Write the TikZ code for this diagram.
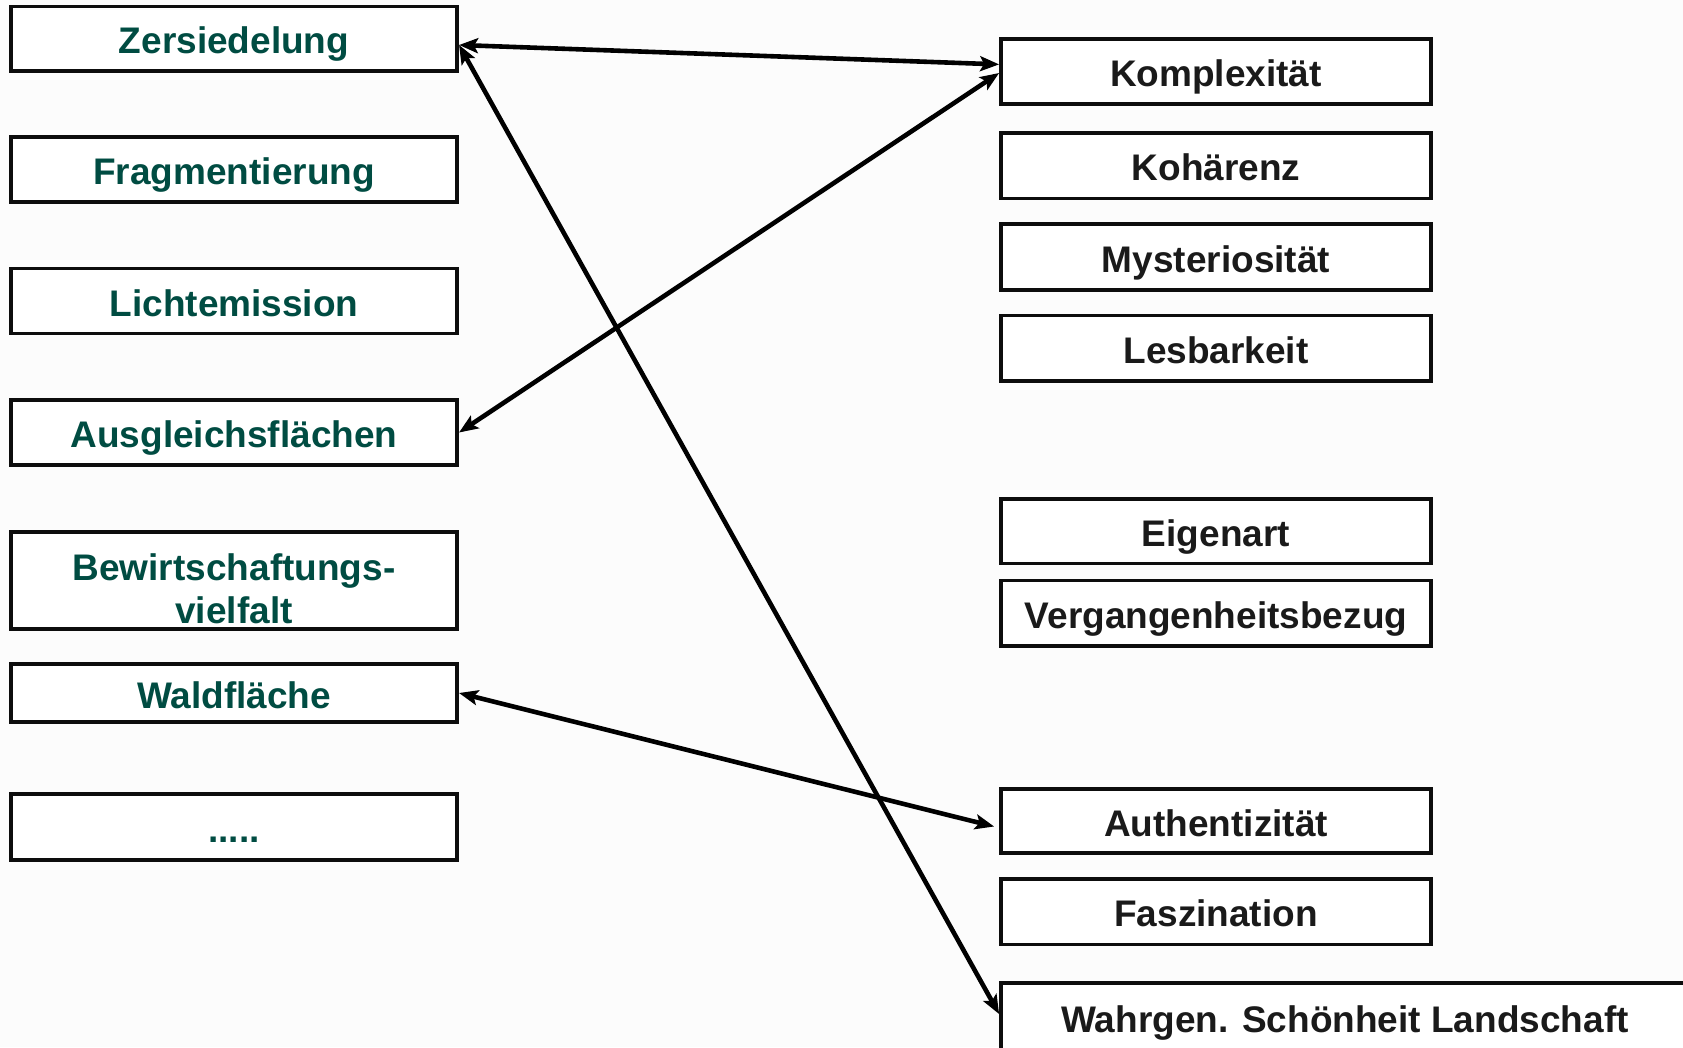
\documentclass[tikz,border=0pt]{standalone}
\usepackage{fontspec}
\setmainfont{Liberation Sans}
\usetikzlibrary{arrows.meta}
\definecolor{bgc}{HTML}{FCFCFC}
\definecolor{greentxt}{RGB}{0,76,66}
\definecolor{darktxt}{HTML}{1A1A1A}
\tikzset{
  box/.style={draw=black!95, line width=3.8pt, fill=white, inner sep=0pt,
    font=\fontsize{37}{43}\selectfont\bfseries, text height=30pt, text depth=0pt},
  lbox/.style={box, minimum width=446.3pt, text=greentxt},
  rbox/.style={box, minimum width=430pt, text=darktxt},
  dbl/.style={line width=4.6pt, draw=black, {Stealth[length=19pt,width=15pt,inset=4pt]}-{Stealth[length=19pt,width=15pt,inset=4pt]}},
}
\begin{document}
\begin{tikzpicture}[x=1pt,y=-1pt]
\clip (0,0) rectangle (1683,1047);
\fill[bgc] (0,0) rectangle (1683,1047);
% left column
\node[lbox, minimum height=64.4pt] (z) at (234,38.6) {Zersiedelung};
\node[lbox, minimum height=65pt] (f) at (234,169.5) {Fragmentierung};
\node[lbox, minimum height=65pt] (l) at (234,301) {Lichtemission};
\node[lbox, minimum height=64.4pt] (a) at (234,432.5) {Ausgleichsflächen};
\node[lbox, minimum height=97.3pt] (b) at (234,580.3) {};
\node[font=\fontsize{37}{43}\selectfont\bfseries, text=greentxt, align=center, inner sep=0pt] (bt) at (234,589) {Bewirtschaftungs-\\vielfalt};
\node[lbox, minimum height=57.7pt] (w) at (234,693) {Waldfläche};
\node[lbox, minimum height=66pt] (d) at (234,827) {.....};
% right column
\node[rbox, minimum height=65.5pt] (k1) at (1216,71.4) {Komplexität};
\node[rbox, minimum height=65.5pt] (k2) at (1216,165.8) {Kohärenz};
\node[rbox, minimum height=65.5pt] (m) at (1216,257) {Mysteriosität};
\node[rbox, minimum height=65.5pt] (le) at (1216,348.3) {Lesbarkeit};
\node[rbox, minimum height=64.5pt] (e) at (1216,531.3) {Eigenart};
\node[rbox, minimum height=65.5pt] (v) at (1216,613.3) {Vergangenheitsbezug};
\node[rbox, minimum height=64pt] (au) at (1216,821) {Authentizität};
\node[rbox, minimum height=65.5pt] (fa) at (1216,911.7) {Faszination};
\node[box, text=darktxt, minimum width=688pt, minimum height=70pt, text height=28pt] (wa) at (1345,1018) {Wahrgen. Schönheit Landschaft};
% connectors
\draw[dbl] ([yshift=-6.4pt]z.east) -- ([yshift=7pt]k1.west);
\draw[dbl] ([yshift=-6.4pt]z.east) -- ([yshift=4pt]wa.west);
\draw[dbl] (a.east) -- ([yshift=-1.6pt]k1.west);
\draw[dbl] (w.east) -- ([xshift=-5pt,yshift=-5.5pt]au.west);
\end{tikzpicture}
\end{document}
